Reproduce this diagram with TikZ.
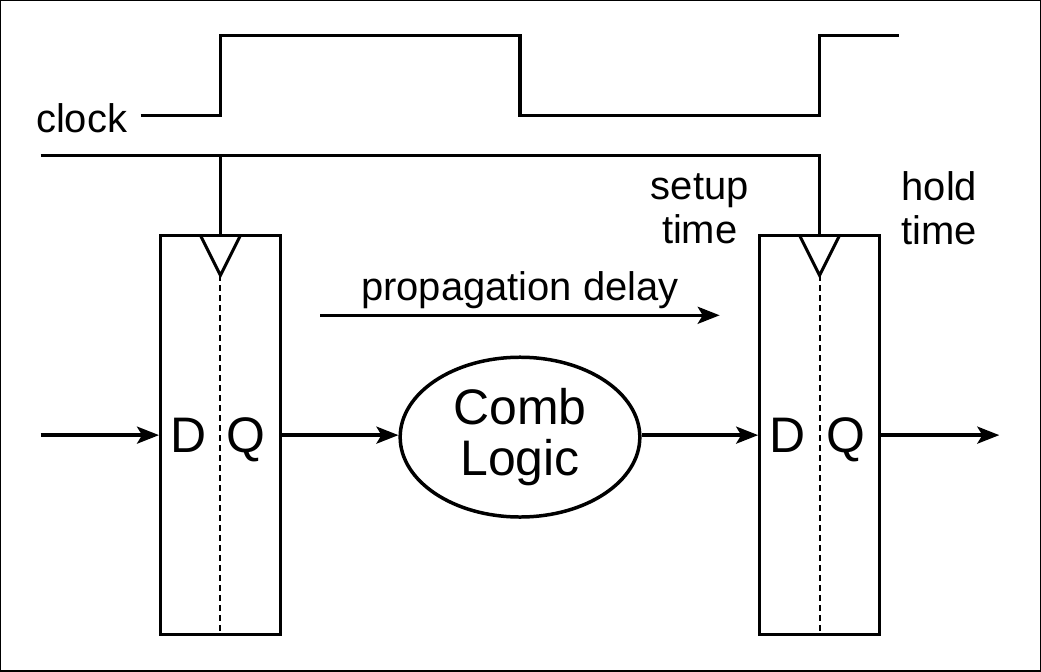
\documentclass[tikz,border=0pt]{standalone}
\usepackage{fontspec}
\setmainfont{Liberation Sans}
\usetikzlibrary{arrows.meta,shapes.geometric}
\begin{document}
\begin{tikzpicture}[x=1pt,y=-1pt,line width=3.5pt,
  lbl/.style={font=\fontsize{40}{48}\selectfont,align=center,inner sep=0},
  big/.style={font=\fontsize{50}{58}\selectfont,align=center,inner sep=0},
  arr/.style={-{Stealth[length=22pt,width=17pt,inset=5pt]}},
  ff/.style={draw,line width=3pt,minimum width=120pt,minimum height=400pt,inner sep=0}]
\draw[line width=1.5pt] (0,0) rectangle (1041,671);
\useasboundingbox (0,0) rectangle (1041,671);
% clock waveform
\draw (140,115) -- (220,115) -- (220,35) -- (520,35) -- (520,115) -- (820,115) -- (820,35) -- (900,35);
\node[lbl] (clk) at (81,118) {clock};
% flip-flops
\node[ff] (ff1) at (220,435) {};
\node[ff] (ff2) at (820,435) {};
\foreach \f/\x in {ff1/220,ff2/820}{
  \draw[line width=3pt,line join=miter] (\x-20,235) -- (\x,275) -- (\x+20,235);
  \draw[dashed,line width=2pt,dash pattern=on 6pt off 4pt] (\x,275) -- (\x,635);
  \node[big,anchor=base] at (\x-32,452) {D};
  \node[big,anchor=base] at (\x+26,452) {Q};
}
% clock distribution
\coordinate (c0) at (40,155);
\coordinate (c1) at (220,155);
\coordinate (c2) at (820,155);
\draw (c0) -- (c2) -- (ff2.north -| c2);
\draw (c1) -- (ff1.north -| c1);
% data path
\node[draw,ellipse,minimum width=240pt,minimum height=160pt,inner sep=0] (cl) at (520,437) {};
\node[big] at (520,437) {Comb\\[-6pt]Logic};
\coordinate (in) at (40,435);
\coordinate (out) at (1000,435);
\draw[arr] (in) -- (ff1.west |- in);
\draw[arr] (ff1.east |- in) -- (cl.west |- in);
\draw[arr] (cl.east |- in) -- (ff2.west |- in);
\draw[arr] (ff2.east |- in) -- (out);
% propagation
\coordinate (p0) at (320,315);
\coordinate (p1) at (720,315);
\draw[arr] (p0) -- (p1);
\node[lbl] (pd) at (520,290) {propagation delay};
\node[lbl] (su) at (700,208) {setup\\[-4pt]time};
\node[lbl] (ho) at (940,208) {hold\\[-4pt]time};
\end{tikzpicture}
\end{document}
